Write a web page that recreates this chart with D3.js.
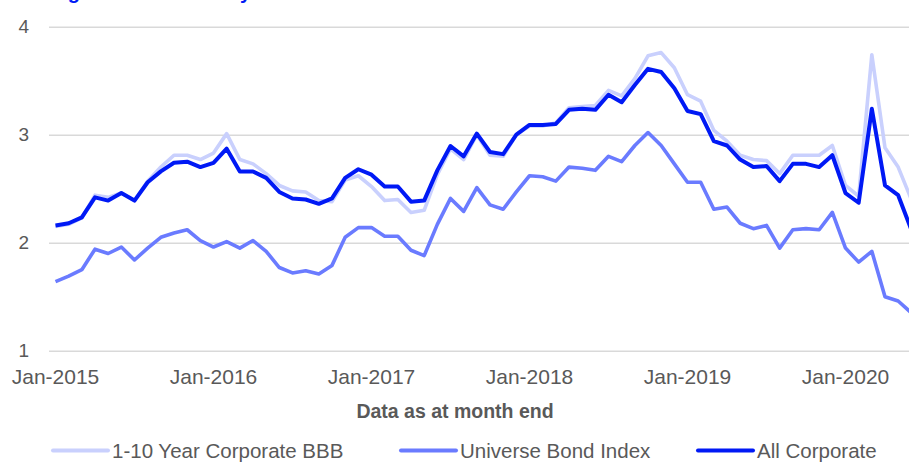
<!DOCTYPE html>
<html lang="en">
<head>
  <meta charset="UTF-8" />
  <title>Average Yield to Maturity</title>
  <script src="https://d3js.org/d3.v7.min.js"></script>
  <style>
    body {
      margin: 0;
      padding: 0;
      background: #fff;
      font-family: "Liberation Sans", Arial, sans-serif;
    }
    svg {
      display: block;
    }
  </style>
</head>
<body>
  <div id="chart"></div>

  <script>
    // month index 0 = Jan-2015 ... 65 = Jun-2020
    const tickLabels = ["Jan-2015", "Jan-2016", "Jan-2017", "Jan-2018", "Jan-2019", "Jan-2020"];
    const tickIndex = [0, 12, 24, 36, 48, 60];
    const yTicks = [1, 2, 3, 4];

    const bbb = [
      2.15, 2.17, 2.23, 2.44, 2.42, 2.46, 2.39, 2.57, 2.70, 2.81,
      2.81, 2.77, 2.83, 3.01, 2.77, 2.73, 2.64, 2.53, 2.48, 2.47,
      2.39, 2.38, 2.58, 2.62, 2.52, 2.39, 2.40, 2.28, 2.30, 2.63,
      2.87, 2.77, 3.00, 2.81, 2.80, 3.00, 3.08, 3.08, 3.11, 3.25,
      3.26, 3.27, 3.41, 3.36, 3.52, 3.73, 3.76, 3.62, 3.37, 3.31,
      3.04, 2.94, 2.81, 2.77, 2.76, 2.64, 2.81, 2.81, 2.81, 2.90,
      2.53, 2.43, 3.74, 2.88, 2.70, 2.40
    ];

    const universe = [
      1.64, 1.69, 1.75, 1.94, 1.90, 1.96, 1.84, 1.95, 2.05, 2.09,
      2.12, 2.02, 1.96, 2.01, 1.95, 2.02, 1.92, 1.77, 1.72, 1.74,
      1.71, 1.79, 2.05, 2.14, 2.14, 2.06, 2.06, 1.93, 1.88, 2.17,
      2.41, 2.29, 2.51, 2.35, 2.31, 2.47, 2.62, 2.61, 2.57, 2.70,
      2.69, 2.67, 2.80, 2.75, 2.90, 3.02, 2.90, 2.73, 2.56, 2.56,
      2.31, 2.33, 2.18, 2.13, 2.16, 1.95, 2.12, 2.13, 2.12, 2.28,
      1.95, 1.82, 1.92, 1.50, 1.46, 1.35
    ];

    const allCorporate = [
      2.16, 2.18, 2.235, 2.42, 2.39, 2.46, 2.39, 2.56, 2.66, 2.74,
      2.75, 2.70, 2.74, 2.87, 2.66, 2.66, 2.60, 2.47, 2.41, 2.40,
      2.36, 2.41, 2.60, 2.68, 2.63, 2.52, 2.52, 2.38, 2.39, 2.67,
      2.895, 2.80, 3.01, 2.84, 2.82, 3.00, 3.09, 3.09, 3.10, 3.23,
      3.24, 3.23, 3.37, 3.30, 3.46, 3.61, 3.58, 3.43, 3.22, 3.19,
      2.94, 2.90, 2.77, 2.70, 2.71, 2.57, 2.73, 2.73, 2.70, 2.81,
      2.46, 2.37, 3.24, 2.53, 2.44, 2.12
    ];

    const seriesNames = ["1-10 Year Corporate BBB", "Universe Bond Index", "All Corporate"];
    const seriesColors = ["#c9d0fd", "#6a7bff", "#0019f5"];

    const W = 909, H = 462;
    const plotLeft = 49;

    const svg = d3.select("#chart")
      .append("svg")
      .attr("width", W)
      .attr("height", H);

    const x = d3.scaleLinear().domain([0, 60]).range([55.5, 845.5]);
    const y = d3.scaleLinear().domain([1, 4]).range([350.7, 26.7]);

    // title, mostly cropped off the top like in the source
    svg.append("text")
      .attr("x", 13)
      .attr("y", -1)
      .style("font-size", "20px")
      .style("font-weight", "bold")
      .style("fill", "#0019f5")
      .text("Average Yield to Maturity");

    // y axis with gridlines
    const yAxis = svg.append("g")
      .attr("transform", `translate(${plotLeft},0)`)
      .call(d3.axisLeft(y).tickValues(yTicks).tickSize(-(W - plotLeft)).tickPadding(20).tickFormat(d3.format("d")));
    yAxis.select(".domain").remove();
    yAxis.selectAll(".tick line").attr("stroke", "#d9d9d9").attr("stroke-width", 1.5);
    yAxis.selectAll(".tick text")
      .style("font-size", "19px")
      .style("font-family", "'Liberation Sans', Arial, sans-serif")
      .attr("fill", "#595959");

    // x labels
    svg.append("g")
      .selectAll("text")
      .data(tickIndex)
      .enter()
      .append("text")
      .attr("x", (d) => x(d))
      .attr("y", 383.5)
      .attr("text-anchor", "middle")
      .style("font-size", "21px")
      .style("fill", "#595959")
      .text((d, i) => tickLabels[i]);

    svg.append("text")
      .attr("x", 455)
      .attr("y", 418)
      .attr("text-anchor", "middle")
      .style("font-size", "19.5px")
      .style("font-weight", "bold")
      .style("fill", "#595959")
      .text("Data as at month end");

    const line = d3.line()
      .x((d, i) => x(i))
      .y((d) => y(d))
      .curve(d3.curveLinear);

    const seriesData = [bbb, universe, allCorporate];
    const widths = [3.6, 3.6, 4];

    svg.append("g")
      .selectAll("path")
      .data(seriesData)
      .enter()
      .append("path")
      .attr("d", line)
      .attr("fill", "none")
      .attr("stroke", (d, i) => seriesColors[i])
      .attr("stroke-width", (d, i) => widths[i])
      .attr("stroke-linejoin", "round");

    // legend
    const legendX = [53, 401, 698];
    const legend = svg.append("g")
      .selectAll("g")
      .data(seriesNames)
      .enter()
      .append("g")
      .attr("transform", (d, i) => `translate(${legendX[i]},450.5)`);

    legend.append("line")
      .attr("x1", 0)
      .attr("x2", 55)
      .attr("stroke", (d, i) => seriesColors[i])
      .attr("stroke-width", 4)
      .attr("stroke-linecap", "round");

    legend.append("text")
      .attr("x", 59)
      .attr("y", 7)
      .style("font-size", "20.5px")
      .style("fill", "#595959")
      .text((d) => d);
  </script>
</body>
</html>
